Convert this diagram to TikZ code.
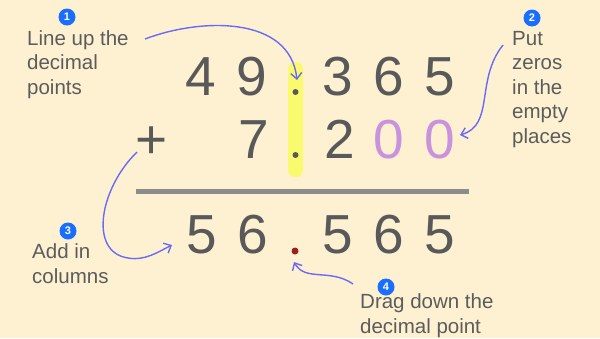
\documentclass[tikz,border=0pt]{standalone}
\usepackage{fontspec}
\setmainfont{Liberation Sans}
\usetikzlibrary{arrows.meta}
\definecolor{bg}{HTML}{FEF1D2}
\definecolor{ink}{HTML}{595959}
\definecolor{lbl}{HTML}{5C5C5C}
\definecolor{zero}{HTML}{C892DD}
\definecolor{hl}{HTML}{FAFA6E}
\definecolor{badge}{HTML}{1A6EFF}
\definecolor{arr}{HTML}{6A6AF5}
\definecolor{reddot}{HTML}{9E1E1E}
\definecolor{rule}{HTML}{8C8C8C}
\tikzset{
  digit/.style={text=ink, font=\fontsize{55}{55}\selectfont, inner sep=0pt, anchor=base},
  zdigit/.style={digit, text=zero},
  lab/.style={text=lbl, font=\fontsize{20.5}{24.5}\selectfont, align=left, inner sep=0pt, anchor=base west},
  badgestyle/.style={circle, fill=badge, text=white, inner sep=0pt, minimum size=17pt, font=\fontsize{11}{11}\selectfont\bfseries},
  curvearrow/.style={draw=arr, line width=1.4pt, -{Straight Barb[length=6pt,width=11pt]}},
  dotp/.style={circle, fill=ink, inner sep=0pt, minimum size=6pt},
}
\begin{document}
\begin{tikzpicture}[x=1pt, y=-1pt]
\fill[bg] (0,0) rectangle (600,338);
\useasboundingbox (0,0) rectangle (600,338);
% highlight
\fill[hl, rounded corners=7pt] (288,62) rectangle (303,177);
% row 1
\node[digit] (r1a) at (201,95) {4};
\node[digit] (r1b) at (252,95) {9};
\node[dotp] (dot1) at (295.5,92) {};
\node[digit] (r1c) at (338,95) {3};
\node[digit] (r1d) at (389,95) {6};
\node[digit] (r1e) at (440,95) {5};
% row 2
\node[digit] (plus) at (152,158) {+};
\node[digit] (r2b) at (254,158) {7};
\node[dotp] (dot2) at (295.5,155) {};
\node[digit] (r2c) at (340,158) {2};
\node[zdigit] (r2d) at (389,158) {0};
\node[zdigit] (r2e) at (440,158) {0};
% rule
\draw[rule, line width=5pt] (136,191) -- (469,191);
% row 3
\node[digit] (r3a) at (202,253) {5};
\node[digit] (r3b) at (253,253) {6};
\node[circle, fill=reddot, inner sep=0pt, minimum size=7pt] (dot3) at (295,251) {};
\node[digit] (r3c) at (338,253) {5};
\node[digit] (r3d) at (389,253) {6};
\node[digit] (r3e) at (440,253) {5};
% labels (anchored at the baseline of the last line)
\node[badgestyle] (b1) at (67,17) {1};
\node[lab] (l1) at (27,94) {Line up the\\decimal\\points};
\node[badgestyle] (b2) at (532,18) {2};
\node[lab] (l2) at (512,143) {Put\\zeros\\in the\\empty\\places};
\node[badgestyle] (b3) at (68,231) {3};
\node[lab] (l3) at (32,283) {Add in\\columns};
\node[badgestyle] (b4) at (386,287) {4};
\node[lab] (l4) at (360,333) {Drag down the\\decimal point};
% arrows
\coordinate (a1s) at (145,39);
\coordinate (a1e) at (297,80);
\draw[curvearrow] (a1s) .. controls (200,18) and (290,15) .. (a1e);
\coordinate (a2s) at (503,45);
\coordinate (a2e) at (460,135);
\draw[curvearrow] (a2s) .. controls (475,80) and (495,125) .. (a2e);
\coordinate (a3s) at (137,152);
\coordinate (a3m) at (128,258);
\coordinate (a3e) at (172,245);
\draw[curvearrow] (a3s) .. controls (100,188) and (88,252) .. (a3m) .. controls (145,261) and (158,252) .. (a3e);
\coordinate (a4s) at (353,284);
\coordinate (a4e) at (294,262);
\draw[curvearrow] (a4s) .. controls (330,268) and (305,282) .. (a4e);
\end{tikzpicture}
\end{document}
